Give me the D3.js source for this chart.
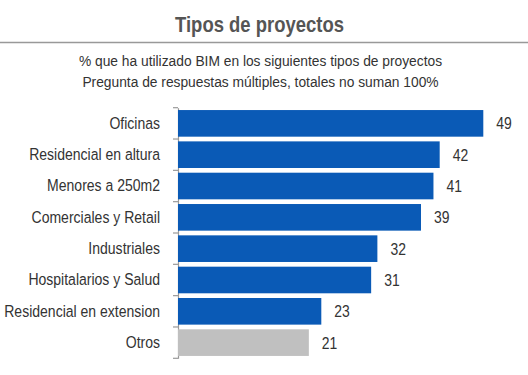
<!DOCTYPE html>
<html><head><meta charset="utf-8">
<script src="https://cdn.jsdelivr.net/npm/d3@7"></script>
<style>
body{margin:0;background:#fff;}
svg text{font-family:"Liberation Sans",Arial,sans-serif;}
</style></head>
<body>
<svg id="c" width="528" height="375"></svg>
<script>
const categories = ["Oficinas","Residencial en altura","Menores a 250m2","Comerciales y Retail","Industriales","Hospitalarios y Salud","Residencial en extension","Otros"];
const values = [49,42,41,39,32,31,23,21];
const barColors = ["#0a5ab6","#0a5ab6","#0a5ab6","#0a5ab6","#0a5ab6","#0a5ab6","#0a5ab6","#c0c0c0"];
const title = "Tipos de proyectos";
const subtitles = ["% que ha utilizado BIM en los siguientes tipos de proyectos","Pregunta de respuestas múltiples, totales no suman 100%"];

const svg = d3.select("#c");
// condensed-looking text: horizontal squeeze
function ctext(g, x, y, s, sx){
  return g.append("text").attr("transform",`translate(${x},${y}) scale(${sx},1)`).text(s);
}
ctext(svg,259.5,31.5,title,0.84).attr("text-anchor","middle")
  .attr("font-size",22).attr("font-weight","bold").attr("fill","#555");
svg.append("line").attr("x1",0).attr("x2",528).attr("y1",42.5).attr("y2",42.5)
  .attr("stroke","#999").attr("stroke-width",1.5);
subtitles.forEach((s,i)=>ctext(svg,260.5,66+i*21,s,0.89)
  .attr("text-anchor","middle").attr("font-size",15.5).attr("fill","#333"));

const x = d3.scaleLinear().domain([0,49]).range([178,483.3]);
const y = d3.scaleBand().domain(categories).range([107.7,358.3]).paddingInner(0.15).paddingOuter(0.075);

const sxl = 0.85;
const ax = svg.append("g").attr("transform","translate(178,0)")
  .call(d3.axisLeft(y).tickSize(0).tickPadding(17));
ax.select(".domain").attr("stroke","#999").attr("stroke-width",1.2);
ax.selectAll(".tick text").each(function(){
  const t = d3.select(this);
  t.attr("transform",`scale(${sxl},1)`).attr("x",-18/sxl)
   .attr("font-size",16.5).attr("fill","#333")
   .style("font-family",'"Liberation Sans",Arial,sans-serif');
});
// boundary ticks between categories
const bounds = d3.range(categories.length+1).map(i=>y.range()[0]+i*y.step());
svg.append("g").selectAll("line").data(bounds).join("line")
  .attr("x1",173).attr("x2",178).attr("y1",d=>d).attr("y2",d=>d)
  .attr("stroke","#999").attr("stroke-width",1.2);

svg.append("g").selectAll("rect").data(values).join("rect")
  .attr("x",x(0)).attr("y",(d,i)=>y(categories[i]))
  .attr("width",d=>x(d)-x(0)).attr("height",y.bandwidth())
  .attr("fill",(d,i)=>barColors[i]);

const lg = svg.append("g");
values.forEach((d,i)=>{
  ctext(lg, x(d)+13, y(categories[i])+y.bandwidth()/2+6, d, 0.82)
    .attr("font-size",17).attr("fill","#333");
});
</script>
</body></html>
